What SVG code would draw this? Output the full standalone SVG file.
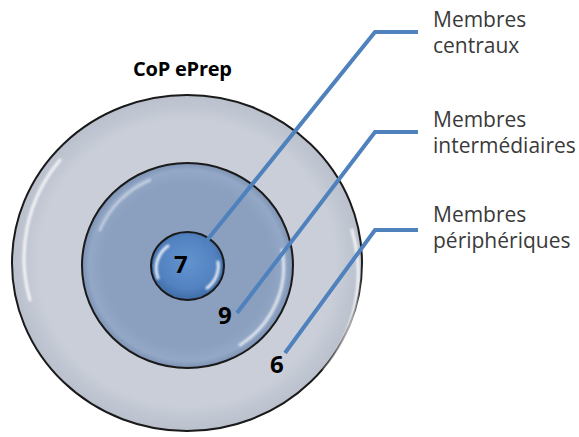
<svg xmlns="http://www.w3.org/2000/svg" width="579" height="437" viewBox="0 0 579 437">
<defs>
<style>
.lbl{font-family:"Open Sans","Liberation Sans",sans-serif;font-size:21px;fill:#3a3a3a}
.num{font-family:"Open Sans","Liberation Sans",sans-serif;font-size:24px;font-weight:bold;fill:#000}
.ring{stroke:#1a1a1a;stroke-width:2}
.conn{fill:none;stroke:#4f81bd;stroke-width:4;stroke-linejoin:miter}
.hl{fill:none;stroke:#ffffff;stroke-linecap:round;filter:url(#soft)}
</style>
<filter id="soft" x="-20%" y="-20%" width="140%" height="140%">
<feGaussianBlur stdDeviation="1.2"/>
</filter>
<radialGradient id="gOuter" cx="50%" cy="50%" r="50%">
<stop offset="0.85" stop-color="#c9ced8"/>
<stop offset="1" stop-color="#b9c0cc"/>
</radialGradient>
<radialGradient id="gMid" cx="50%" cy="50%" r="50%">
<stop offset="0.8" stop-color="#8b9fbf"/>
<stop offset="0.93" stop-color="#93a7c6"/>
<stop offset="1" stop-color="#7d92b3"/>
</radialGradient>
<radialGradient id="gIn" cx="50%" cy="45%" r="55%">
<stop offset="0" stop-color="#6494cf"/>
<stop offset="0.7" stop-color="#5282c0"/>
<stop offset="1" stop-color="#3f6ca6"/>
</radialGradient>
</defs>
<g id="title"><text x="133" y="76" style="font-family:'Open Sans','Liberation Sans',sans-serif;font-size:20px;font-weight:bold;fill:#000" textLength="99">CoP ePrep</text></g>
<g id="outer">
<ellipse cx="187" cy="263" rx="175" ry="168" fill="url(#gOuter)" class="ring"/>
<path class="hl" stroke-width="3" opacity="0.8" d="M 30 300 A 160 155 0 0 1 60 160"/>
<path class="hl" stroke-width="3" opacity="0.8" d="M 352 230 A 165 160 0 0 1 325 370"/>
</g>
<g id="middle">
<ellipse cx="187.5" cy="265.5" rx="105.5" ry="102.5" fill="url(#gMid)" class="ring"/>
<path class="hl" stroke-width="3" opacity="0.45" d="M 100 230 A 95 92 0 0 1 150 180"/>
<path class="hl" stroke-width="3" opacity="0.7" d="M 282 250 A 96 93 0 0 1 240 345"/>
</g>
<g id="inner">
<ellipse cx="187.5" cy="266" rx="36.5" ry="34" fill="url(#gIn)" class="ring"/>
<path class="hl" stroke-width="3" opacity="0.85" d="M 158 278 A 30 28 0 0 1 168 246"/>
<path class="hl" stroke-width="3" opacity="0.85" d="M 218 262 A 30 28 0 0 1 207 288"/>
</g>
<g id="connectors">
<polyline class="conn" points="204,244 375,32 418,32"/>
<polyline class="conn" points="237,313 375,132 418,132"/>
<polyline class="conn" points="285,353 375,230 418,230"/>
</g>
<g id="numbers">
<text class="num" x="174" y="273">7</text>
<text class="num" x="218" y="324">9</text>
<text class="num" x="270" y="373">6</text>
</g>
<g id="label-central">
<text class="lbl" x="433" y="27">Membres</text>
<text class="lbl" x="433" y="53">centraux</text>
</g>
<g id="label-inter">
<text class="lbl" x="433" y="127">Membres</text>
<text class="lbl" x="433" y="153">intermédiaires</text>
</g>
<g id="label-peri">
<text class="lbl" x="433" y="222">Membres</text>
<text class="lbl" x="433" y="248">périphériques</text>
</g>
</svg>
